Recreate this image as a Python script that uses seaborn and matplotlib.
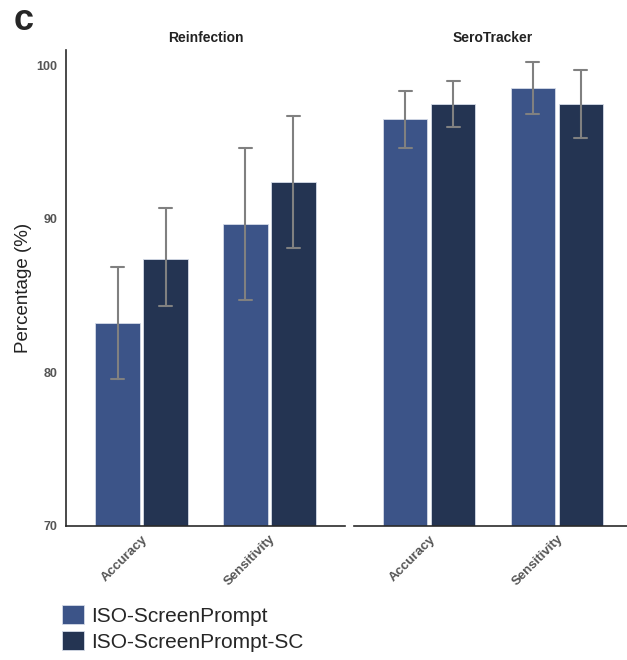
import matplotlib
matplotlib.use("Agg")
import matplotlib.pyplot as plt
import seaborn as sns
import pandas as pd

# ---- data ----
datasets = ["Reinfection", "SeroTracker"]
metrics = ["Accuracy", "Sensitivity"]
methods = ["ISO-ScreenPrompt", "ISO-ScreenPrompt-SC"]

# values per dataset: [Accuracy ISO, Accuracy SC, Sensitivity ISO, Sensitivity SC]
reinf_values = [83.2, 87.4, 89.7, 92.4]
reinf_lower = [79.6, 84.3, 84.7, 88.1]
reinf_upper = [86.9, 90.7, 94.6, 96.7]

sero_values = [96.5, 97.5, 98.5, 97.5]
sero_lower = [94.6, 96.0, 96.8, 95.3]
sero_upper = [98.3, 99.0, 100.2, 99.7]

colors = ["#3C5488", "#243452"]
y_ticks = [70, 80, 90, 100]

# ---- long table: each bar gets (lower, value, upper); median = value, min/max = interval ----
rows = []
for ds, vals, lo, hi in [("Reinfection", reinf_values, reinf_lower, reinf_upper),
                         ("SeroTracker", sero_values, sero_lower, sero_upper)]:
    k = 0
    for m in metrics:
        for meth in methods:
            for v in (lo[k], vals[k], hi[k]):
                rows.append({"dataset": ds, "metric": m, "method": meth, "value": v})
            k += 1
df = pd.DataFrame(rows)

sns.set_style("white")
plt.rcParams["font.family"] = ["Liberation Sans", "DejaVu Sans"]

W, H = 627, 660
fig = plt.figure(figsize=(W / 100, H / 100), dpi=100)

def frac_box(x0, x1, ytop, ybot):
    return [x0 / W, 1 - ybot / H, (x1 - x0) / W, (ybot - ytop) / H]

ax_l = fig.add_axes(frac_box(66, 345, 50, 526))
ax_r = fig.add_axes(frac_box(354, 632, 50, 526))

palette = dict(zip(methods, colors))
for ax, ds in [(ax_l, "Reinfection"), (ax_r, "SeroTracker")]:
    sub = df[df["dataset"] == ds]
    sns.barplot(data=sub, x="metric", y="value", hue="method", order=metrics,
                hue_order=methods, palette=palette, estimator="median",
                errorbar=("pi", 100), width=0.75, gap=0.08, capsize=0.2,
                err_kws={"color": "#808080", "linewidth": 1.5},
                edgecolor="#d5dbe8", linewidth=0.6, saturation=1, ax=ax,
                legend=(ds == "Reinfection"))
    ax.set_xlim(-0.59, 1.59)
    ax.set_ylim(70, 101)
    ax.set_xlabel("")
    ax.set_title(ds, fontsize=10, fontweight="bold", color="#222222", pad=6)
    for lab in ax.get_xticklabels():
        lab.set_rotation(45)
        lab.set_ha("right")
        lab.set_rotation_mode("anchor")
        lab.set_fontsize(9.5)
        lab.set_fontweight("bold")
        lab.set_color("#555555")
    ax.tick_params(axis="x", length=0, pad=5)
    for s in ["top", "right"]:
        ax.spines[s].set_visible(False)
    ax.spines["bottom"].set_color("#2a2a2a")
    ax.spines["bottom"].set_linewidth(1.2)

leg = ax_l.get_legend()
handles = leg.legend_handles
labels = [t.get_text() for t in leg.get_texts()]
leg.remove()

ax_l.set_yticks(y_ticks)
ax_l.set_yticklabels([str(t) for t in y_ticks], fontsize=9, fontweight="bold", color="#555555")
ax_l.tick_params(axis="y", length=0, pad=6)
ax_l.set_ylabel("Percentage (%)", fontsize=13.5, color="#222222", labelpad=3)
ax_l.spines["left"].set_color("#2a2a2a")
ax_l.spines["left"].set_linewidth(1.2)

ax_r.spines["left"].set_visible(False)
ax_r.set_yticks([])
ax_r.set_ylabel("")

fig.legend(handles, labels, loc="upper left", bbox_to_anchor=(62 / W, 1 - 605 / H),
           frameon=False, fontsize=15, handlelength=1.05, handleheight=1.05,
           handletextpad=0.35, labelspacing=0.25, borderpad=0, borderaxespad=0)

fig.text(14 / W, 1 - 30 / H, "c", fontsize=26, fontweight="bold", va="baseline", ha="left")

fig.savefig("out.png", dpi=100)
